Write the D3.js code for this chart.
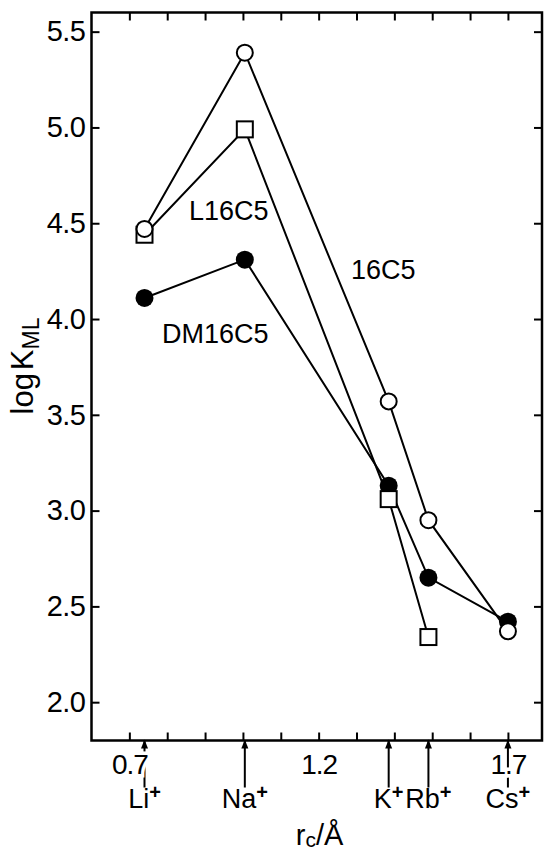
<!DOCTYPE html>
<meta charset="utf-8">
<style>
body { margin: 0; background: #fff; }
text { font-family: "Liberation Sans", Arial, sans-serif; fill: #000; }
</style>
<body>
<svg width="544" height="851"></svg>
<script src="https://d3js.org/d3.v7.min.js"></script>
<script>
// cations and their radii r_c / Å
var ions = ["Li", "Na", "K", "Rb", "Cs"];
var radii = [0.74, 1.005, 1.385, 1.49, 1.70];

// log K_ML for each crown ether (same order as ions)
var logK16C5   = [4.47, 5.39, 3.57, 2.95, 2.37];
var logKL16C5  = [4.44, 4.99, 3.06, 2.34];
var logKDM16C5 = [4.11, 4.31, 3.13, 2.65, 2.42];

var xTicks = [0.7, 0.8, 0.9, 1.0, 1.1, 1.2, 1.3, 1.4, 1.5, 1.6, 1.7];
var xTickLabels = [0.7, 1.2, 1.7];
var yTicks = [2.0, 2.5, 3.0, 3.5, 4.0, 4.5, 5.0, 5.5];

var margin = {top: 12.5, right: 2, bottom: 110.5, left: 91.5},
    width = 544 - margin.left - margin.right,
    height = 851 - margin.top - margin.bottom;

var root = d3.select("svg");
var svg = root.append("g")
    .attr("transform", "translate(" + margin.left + "," + margin.top + ")");

var x = d3.scaleLinear().domain([0.6, 1.79]).range([0, width]);
var y = d3.scaleLinear().domain([1.8, 5.6]).range([height, 0]);

// arrows marking the cation radii under the x axis
var ionG = svg.append("g").attr("transform", "translate(0," + height + ")");
ionG.selectAll("line").data(radii).join("line")
    .attr("x1", d => x(d)).attr("x2", d => x(d))
    .attr("y1", 0).attr("y2", 47)
    .attr("stroke", "#000").attr("stroke-width", 2);
ionG.selectAll("path").data(radii).join("path")
    .attr("d", d => "M" + x(d) + ",-1l-3.5,9h7z")
    .attr("fill", "#000");
var ionText = ionG.selectAll("text").data(ions).join("text")
    .attr("x", (d, i) => x(radii[i]))
    .attr("y", 67.5)
    .attr("text-anchor", "middle")
    .style("font-size", "27px")
    .text(d => d);
ionText.append("tspan").attr("dy", -9).style("font-size", "20px").style("font-weight", "bold").text("+");

// bottom / top axes, ticks inwards
var xb = svg.append("g")
    .attr("transform", "translate(0," + height + ")")
    .call(d3.axisBottom(x).tickValues(xTicks).tickSize(-8).tickSizeOuter(0)
      .tickFormat(d => xTickLabels.indexOf(d) >= 0 ? d3.format(".1f")(d) : ""));
xb.selectAll("text")
    .attr("y", 33).attr("dy", null)
    .style("font-size", "28px")
    .style("letter-spacing", "-1px")
    .style("stroke", "#fff").style("stroke-width", 7)
    .style("paint-order", "stroke");

svg.append("g")
    .call(d3.axisTop(x).tickValues(xTicks).tickSize(-8).tickSizeOuter(0).tickFormat(""));

// left / right axes
var yl = svg.append("g")
    .call(d3.axisLeft(y).tickValues(yTicks).tickSize(-8).tickSizeOuter(0).tickPadding(6)
      .tickFormat(d3.format(".1f")));
yl.selectAll("text").style("font-size", "29px").style("letter-spacing", "-0.5px");

svg.append("g")
    .attr("transform", "translate(" + width + ",0)")
    .call(d3.axisRight(y).tickValues(yTicks).tickSize(-8).tickSizeOuter(0).tickFormat(""));

svg.selectAll(".domain").remove();
svg.selectAll(".tick line").attr("stroke", "#000").attr("stroke-width", 2);

// frame
svg.append("rect")
    .attr("width", width).attr("height", height)
    .attr("fill", "none").attr("stroke", "#000").attr("stroke-width", 2.5);

// series lines
var line = d3.line().x((d, i) => x(radii[i])).y(d => y(d));
[logKDM16C5, logKL16C5, logK16C5].forEach(function (s) {
  svg.append("path").datum(s)
      .attr("d", line)
      .attr("fill", "none").attr("stroke", "#000").attr("stroke-width", 2);
});

// markers
svg.append("g").selectAll("circle").data(logKDM16C5).join("circle")
    .attr("cx", (d, i) => x(radii[i])).attr("cy", d => y(d))
    .attr("r", 9).attr("fill", "#000");

svg.append("g").selectAll("rect").data(logKL16C5).join("rect")
    .attr("x", (d, i) => x(radii[i]) - 8).attr("y", d => y(d) - 8)
    .attr("width", 16).attr("height", 16)
    .attr("fill", "#fff").attr("stroke", "#000").attr("stroke-width", 2);

svg.append("g").selectAll("circle").data(logK16C5).join("circle")
    .attr("cx", (d, i) => x(radii[i])).attr("cy", d => y(d))
    .attr("r", 8).attr("fill", "#fff").attr("stroke", "#000").attr("stroke-width", 2);

// series labels
root.append("text").attr("x", 189).attr("y", 220).style("font-size", "27px").text("L16C5");
root.append("text").attr("x", 351).attr("y", 279).style("font-size", "27px").text("16C5");
root.append("text").attr("x", 162).attr("y", 343).style("font-size", "27px").text("DM16C5");

// axis titles
var yt = root.append("text")
    .attr("transform", "translate(33,366) rotate(-90)")
    .attr("text-anchor", "middle")
    .style("font-size", "31px")
    .text("log");
yt.append("tspan").attr("dx", 3).text("K");
yt.append("tspan").attr("dy", 6).style("font-size", "23px").text("ML");

var xt = root.append("text")
    .attr("x", 319.5).attr("y", 845)
    .attr("text-anchor", "middle")
    .style("font-size", "29px")
    .text("r");
xt.append("tspan").attr("dy", 2).style("font-size", "21px").text("c");
xt.append("tspan").attr("dy", -2).text("/Å");
</script>
</body>
